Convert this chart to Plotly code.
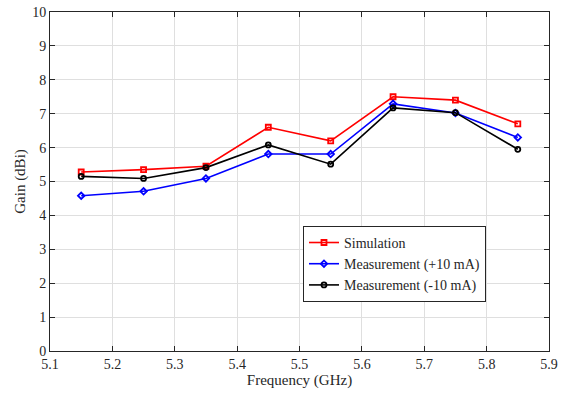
import plotly.graph_objects as go

freq = [5.15, 5.25, 5.35, 5.45, 5.55, 5.65, 5.75, 5.85]
simulation = [5.28, 5.35, 5.45, 6.6, 6.2, 7.5, 7.4, 6.7]
meas_plus = [4.58, 4.71, 5.09, 5.81, 5.81, 7.29, 7.02, 6.3]
meas_minus = [5.15, 5.09, 5.41, 6.08, 5.51, 7.17, 7.03, 5.95]

x_ticks = [5.1, 5.2, 5.3, 5.4, 5.5, 5.6, 5.7, 5.8, 5.9]
y_ticks = list(range(0, 11))

fig = go.Figure()
series = [
    ("Simulation", simulation, "red", "square-open"),
    ("Measurement (+10 mA)", meas_plus, "blue", "diamond-open"),
    ("Measurement (-10 mA)", meas_minus, "black", "circle-open"),
]
for name, ys, col, sym in series:
    fig.add_trace(go.Scatter(
        x=freq, y=ys, name=name, mode="lines+markers",
        line=dict(color=col, width=1.6),
        marker=dict(symbol=sym, size=5, color=col, line=dict(color=col, width=1.8)),
    ))

fam = "Liberation Serif, Times New Roman, serif"
tick_font = dict(family=fam, size=14, color="#262626")
title_font = dict(family=fam, size=15, color="#262626")
axis_common = dict(
    showline=True, linecolor="#262626", linewidth=1, mirror="ticks",
    ticks="inside", ticklen=5, tickcolor="#262626",
    showgrid=True, gridcolor="#dfdfdf", gridwidth=1, zeroline=False,
    tickfont=tick_font, automargin=False,
)
fig.update_layout(
    width=566, height=395,
    margin=dict(l=50, r=17, t=12, b=44),
    plot_bgcolor="white", paper_bgcolor="white",
    font=tick_font,
    xaxis=dict(range=[5.1, 5.9], tickvals=x_ticks, ticktext=[f"{v:.1f}" for v in x_ticks],
               title=dict(text="Frequency (GHz)", font=title_font, standoff=0), **axis_common),
    yaxis=dict(range=[0, 10], tickvals=y_ticks,
               title=dict(text="Gain (dBi)", font=title_font, standoff=2), **axis_common),
    legend=dict(x=0.507, y=0.369, xanchor="left", yanchor="top",
                bordercolor="#262626", borderwidth=1, bgcolor="white",
                font=dict(family=fam, size=14, color="#262626"),
                tracegroupgap=0, itemwidth=30),
    showlegend=True,
)
fig.write_html("out.html", config={"displayModeBar": False},
               post_script="document.body.style.margin='0';document.body.style.overflow='hidden';")
